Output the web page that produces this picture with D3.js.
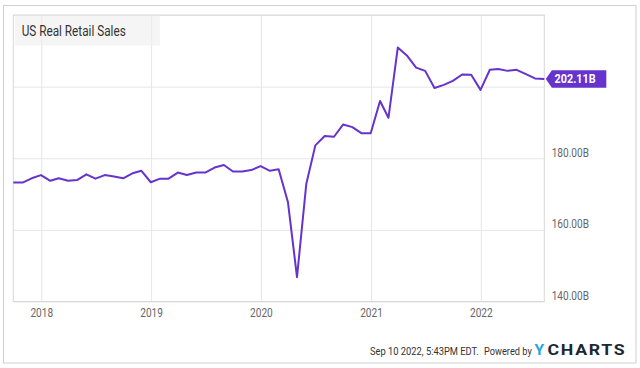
<!DOCTYPE html>
<html><head><meta charset="utf-8">
<script src="https://cdn.jsdelivr.net/npm/d3@7"></script>
<style>
html,body{margin:0;padding:0;background:#fff;}
svg{display:block;font-family:Roboto,"Noto Sans",sans-serif;}
</style></head>
<body><svg id="c" width="640" height="368"></svg>
<script>
const title = "US Real Retail Sales";
const months = [
 "2017-09","2017-10","2017-11","2017-12",
 "2018-01","2018-02","2018-03","2018-04","2018-05","2018-06","2018-07","2018-08","2018-09","2018-10","2018-11","2018-12",
 "2019-01","2019-02","2019-03","2019-04","2019-05","2019-06","2019-07","2019-08","2019-09","2019-10","2019-11","2019-12",
 "2020-01","2020-02","2020-03","2020-04","2020-05","2020-06","2020-07","2020-08","2020-09","2020-10","2020-11","2020-12",
 "2021-01","2021-02","2021-03","2021-04","2021-05","2021-06","2021-07","2021-08","2021-09","2021-10","2021-11","2021-12",
 "2022-01","2022-02","2022-03","2022-04","2022-05","2022-06","2022-07"];
const sales = [
 173.2,173.2,174.4,175.3,
 173.7,174.4,173.7,173.9,175.5,174.3,175.3,174.9,174.4,175.8,176.5,173.3,
 174.3,174.3,176.0,175.3,176.0,176.0,177.4,178.1,176.3,176.3,176.7,177.8,
 176.5,176.9,167.7,146.8,172.9,183.6,186.2,186.0,189.4,188.7,187.0,187.0,
 196.0,191.3,210.9,208.7,205.3,204.4,199.6,200.5,201.6,203.4,203.3,199.1,
 204.7,204.9,204.4,204.7,203.5,202.3,202.11];
const yearTicks = ["2018","2019","2020","2021","2022"];
const yGrid = [140,160,180,200,220];
const yLabelTicks = [140,160,180];
const yDomain = [140,220];
const lastLabel = "202.11B";
const footerDate = "Sep 10 2022, 5:43PM EDT.";

const purple = "#6633cc";
const svg = d3.select("#c");
const L=13.3, R=544.3, T=15, B=301.5;

const parseM = d3.utcParse("%Y-%m");
// monthly observations dated at month end
const data = months.map((m,i)=>({d:d3.utcDay.offset(d3.utcMonth.offset(parseM(m),1),-1), v:sales[i]}));
const x = d3.scaleUtc().domain(d3.extent(data,d=>d.d)).range([L,R]);
const y = d3.scaleLinear().domain(yDomain).range([B,T]);
const parseY = d3.utcParse("%Y");

function squeeze(sel,k){ sel.each(function(){ const w=this.getComputedTextLength(); this.setAttribute("textLength",(w*k).toFixed(2)); this.setAttribute("lengthAdjust","spacingAndGlyphs"); }); }

// outer frame
svg.append("rect").attr("x",3.5).attr("y",5.5).attr("width",632.5).attr("height",357.5)
  .attr("fill","#fff").attr("stroke","#d0d0d0");

// gridlines
const gx = svg.append("g").attr("transform",`translate(0,${B})`)
  .call(d3.axisBottom(x).tickValues(yearTicks.map(parseY)).tickSize(-(B-T)).tickFormat(""));
gx.select(".domain").remove();
gx.selectAll("line").attr("stroke","#e6e6e6");
const gy = svg.append("g").attr("transform",`translate(${L},0)`)
  .call(d3.axisLeft(y).tickValues(yGrid).tickSize(-(R-L)).tickFormat(""));
gy.select(".domain").remove();
gy.selectAll("line").attr("stroke","#e6e6e6");

// plot border
svg.append("rect").attr("x",L).attr("y",T).attr("width",R-L).attr("height",B-T)
  .attr("fill","none").attr("stroke","#d8d8d8");

// x labels
const xl = svg.append("g").attr("transform",`translate(0,${B})`)
  .call(d3.axisBottom(x).tickValues(yearTicks.map(parseY)).tickSize(0).tickPadding(0).tickFormat(d3.utcFormat("%Y")));
xl.select(".domain").remove();
xl.selectAll("text").attr("y",15.8).attr("dy",null).attr("fill","#666").attr("font-size",12).attr("font-family","Roboto");
squeeze(xl.selectAll("text"),0.84);

// y labels
const yl = svg.append("g").attr("transform",`translate(${R},0)`)
  .call(d3.axisRight(y).tickValues(yLabelTicks).tickSize(0).tickPadding(0).tickFormat(d=>d3.format(".2f")(d)+"B"));
yl.select(".domain").remove();
yl.selectAll("text").attr("x",7.4).attr("dy","-2").attr("fill","#666").attr("font-size",12).attr("font-family","Roboto");
squeeze(yl.selectAll("text"),0.84);

// title box
svg.append("rect").attr("x",15).attr("y",15.5).attr("width",145).attr("height",30)
  .attr("fill","#eeeeee").attr("fill-opacity",0.6);
const tt = svg.append("text").attr("x",21.7).attr("y",36).attr("font-size",14).attr("fill","#333").text(title);
squeeze(tt,0.84);

// line
svg.append("path").datum(data)
  .attr("fill","none").attr("stroke",purple).attr("stroke-width",2).attr("stroke-linejoin","round")
  .attr("d",d3.line().x(d=>x(d.d)).y(d=>y(d.v)));

// last value tag
const last = data[data.length-1];
const ty = y(last.v);
const tx = R+1.5;
svg.append("path").attr("fill",purple)
  .attr("d",`M${tx},${ty} L${tx+6},${ty-8.7} L${tx+60.5},${ty-8.7} L${tx+60.5},${ty+8.7} L${tx+6},${ty+8.7} Z`);
const lt = svg.append("text").attr("x",tx+8.8).attr("y",ty+4.3).attr("font-size",12).attr("font-weight","bold")
  .attr("fill","#fff").text(lastLabel);
squeeze(lt,0.9);

// footer (horizontally condensed via transform)
svg.append("g").attr("transform","translate(370,355) scale(0.85,1)")
  .append("text").attr("x",0).attr("y",0).attr("font-size",11).attr("fill","#333").text(footerDate);
svg.append("g").attr("transform","translate(484,355) scale(0.84,1)")
  .append("text").attr("x",0).attr("y",0).attr("font-size",11).attr("fill","#333").text("Powered by");
svg.append("text").attr("x",534.5).attr("y",355.3).attr("font-size",15.5).attr("font-weight","bold")
  .attr("font-family","Roboto").attr("fill","#2ba5e0").text("Y");
const ch = svg.append("text").attr("x",547.5).attr("y",355.3).attr("font-size",15.5).attr("font-weight","bold")
  .attr("font-family","Roboto").attr("letter-spacing",1.5).attr("fill","#1c2735").text("CHARTS");
ch.attr("textLength",79).attr("lengthAdjust","spacingAndGlyphs");
</script></body></html>
